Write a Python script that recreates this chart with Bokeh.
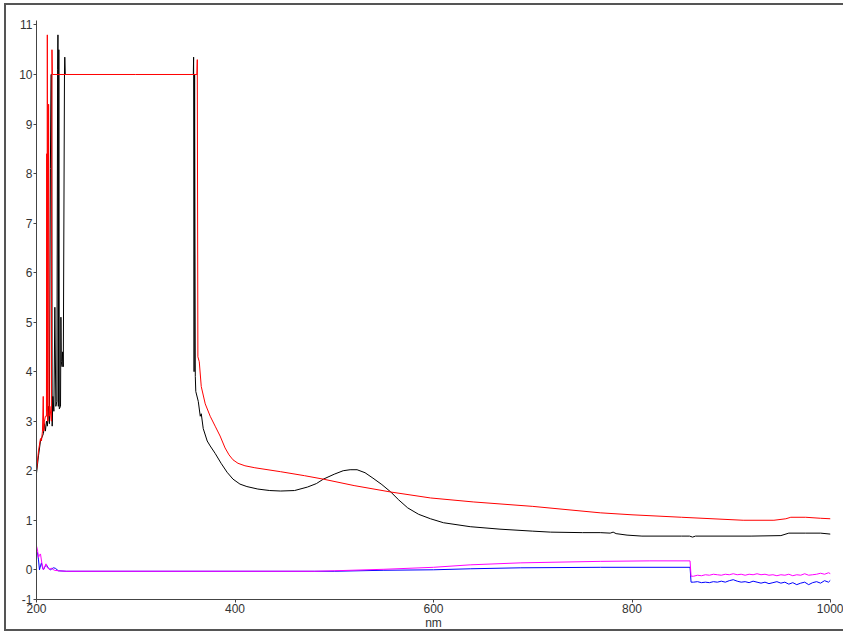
from bokeh.plotting import figure
from bokeh.models import FixedTicker
from bokeh.embed import file_html
from bokeh.resources import INLINE

NaN = float("nan")

# ---- data ----
black_nm = [200, 202, 204, 206, 207, 208, 209, 210, 211, 212, 213, 214, 214.6, 215.3, 215.8, 216.5,
            217.5, 218.5, 219.5, 220.5, 221.3, 221.6, 222, 222.5, 223, 224.2, 224.6, 225, 225.8, 226.3,
            227, 228.2, 228.5, 229, 300, 358, 358.3, 358.8, 359.3, 360, 360.5, 363, 365, 366, 368,
            372, 375, 380, 386, 392, 398, 405, 412, 423, 435, 446, 460, 473, 482, 489, 500, 509, 516, 523,
            531, 539, 548, 557, 565, 574, 585, 597, 610, 637, 667, 700, 718, 750, 768, 778, 781, 784,
            795, 810, 850, 858, 861, 864, 920, 950, 958, 975, 990, 1000]
black_abs = [1.95, 2.3, 2.6, 2.7, 2.75, 2.95, 2.8, 3.0, 2.9, 3.3, 2.95, 8.1, 10.0, 10.0, 2.9, 3.5,
             3.2, 5.3, 3.3, 3.4, 10.1, 10.8, 3.3, 10.5, 3.25, 3.3, 5.1, 4.2, 4.1, 4.4,
             4.1, 10.05, 10.35, 10.0, NaN, 10.0, 10.35, 4.0, 10.0, 3.9, 3.6, 3.4, 3.1, 3.15, 2.85,
             2.6, 2.5, 2.35, 2.15, 1.97, 1.83, 1.73, 1.68, 1.63, 1.6, 1.59, 1.6, 1.67, 1.74, 1.83, 1.93, 2.0, 2.02, 2.02,
             1.96, 1.85, 1.72, 1.57, 1.41, 1.25, 1.12, 1.03, 0.95, 0.87, 0.82, 0.78, 0.76, 0.75, 0.75, 0.74, 0.76, 0.73,
             0.70, 0.68, 0.68, 0.68, 0.66, 0.68, 0.68, 0.69, 0.74, 0.74, 0.74, 0.72]

red_nm = [200, 202, 204, 205, 206, 206.8, 207.3, 208, 209, 210, 210.3, 210.6, 210.9, 211.4, 212.2,
          212.8, 213.5, 215, 215.6, 216, 300, 361.6, 362, 362.6, 364, 366, 370, 375, 380, 385, 390,
          394, 398, 403, 410, 420, 446, 470, 489, 520, 557, 597, 640, 700, 768, 800, 850, 912, 943,
          955, 960, 975, 990, 1000]
red_abs = [2.0, 2.4, 2.65, 2.6, 2.8, 3.5, 2.8, 3.0, 3.1, 3.1, 8.4, 3.2, 10.8, 3.0, 9.4,
           3.1, 3.3, 3.0, 10.5, 10.0, 10.0, 10.0, 10.3, 4.3, 4.2, 3.7, 3.35, 3.1, 2.9, 2.7, 2.46,
           2.32, 2.22, 2.15, 2.1, 2.06, 1.98, 1.9, 1.83, 1.7, 1.57, 1.45, 1.37, 1.28, 1.15, 1.11, 1.06, 1.0, 1.0,
           1.03, 1.06, 1.06, 1.04, 1.03]

magenta_nm = [200, 201, 202, 203, 204, 205.5, 207, 208, 209.5, 211, 213, 215, 218, 222, 230, 480,
              500, 550, 600, 637, 688, 768, 818, 858.5, 859.5, 862, 866, 870, 874, 878, 882, 886,
              890, 894, 898, 902, 906, 910, 914, 918, 922, 926, 930, 934, 938, 942, 946, 950, 954,
              958, 962, 966, 970, 974, 978, 982, 986, 990, 994, 998, 1000]
magenta_abs = [0.48, 0.4, 0.25, 0.3, 0.32, 0.12, 0.0, 0.05, 0.12, 0.04, 0.01, 0.03, -0.01, -0.02, -0.03, -0.03,
               -0.02, 0.01, 0.05, 0.1, 0.14, 0.17, 0.18, 0.18, -0.13, -0.13, -0.11, -0.12, -0.1, -0.11, -0.09, -0.1,
               -0.11, -0.09, -0.1, -0.08, -0.1, -0.09, -0.11, -0.09, -0.1, -0.08, -0.1, -0.09, -0.11, -0.1, -0.12, -0.1, -0.11,
               -0.09, -0.12, -0.1, -0.11, -0.08, -0.11, -0.1, -0.09, -0.07, -0.09, -0.06, -0.08]

blue_nm = [200, 201, 202, 203, 204, 205, 206, 207, 208.5, 210, 212, 214, 217, 219, 222, 230, 480,
           500, 550, 600, 637, 688, 768, 858.5, 859.5, 862, 866, 870, 874, 878, 882, 886, 890, 894,
           898, 902, 906, 910, 914, 918, 922, 926, 930, 934, 938, 942, 946, 950, 954, 958, 962, 966,
           970, 974, 978, 982, 986, 990, 994, 998, 1000]
blue_abs = [0.3, 0.35, 0.2, 0.0, 0.08, 0.14, 0.05, 0.0, 0.06, 0.1, 0.03, 0.0, 0.04, 0.03, -0.02, -0.03, -0.03,
            -0.03, -0.01, 0.0, 0.02, 0.04, 0.05, 0.05, -0.25, -0.25, -0.24, -0.26, -0.25, -0.26, -0.24, -0.25, -0.23, -0.25,
            -0.22, -0.2, -0.23, -0.25, -0.24, -0.26, -0.23, -0.25, -0.27, -0.25, -0.28, -0.26, -0.24, -0.27, -0.25, -0.29, -0.26, -0.3,
            -0.27, -0.25, -0.3, -0.26, -0.24, -0.27, -0.22, -0.25, -0.21]

x_ticks = [200, 400, 600, 800, 1000]
y_ticks = [-0.6, 0, 1, 2, 3, 4, 5, 6, 7, 8, 9, 10, 11]
y_bottom_label = "-1"
x_title = "nm"

# ---- figure ----
p = figure(width=843, height=632, output_backend="svg", toolbar_location=None,
           x_range=(200, 1000), y_range=(-0.6, 11.09),
           min_border_left=36, min_border_right=13, min_border_top=20, min_border_bottom=32)
p.background_fill_color = "white"
p.border_fill_color = None
p.outline_line_color = None
p.xgrid.visible = False
p.ygrid.visible = False
p.styles = {"box-shadow": "inset 0 3px 0 0 #ffffff, inset 4px 0 0 0 #ffffff, inset 0 -1px 0 0 #ffffff, "
                          "inset 0 5px 0 0 #555555, inset 6px 0 0 0 #555555, inset 0 -3px 0 0 #555555",
            "background-color": "#ffffff"}

for ax in (p.xaxis[0], p.yaxis[0]):
    ax.axis_line_color = "#444444"
    ax.major_tick_line_color = "#444444"
    ax.major_tick_out = 3
    ax.major_tick_in = 0
    ax.minor_tick_line_color = None
    ax.major_label_text_font = "Liberation Sans"
    ax.major_label_text_font_size = "12px"
    ax.major_label_text_color = "#333333"
    ax.major_label_standoff = 1

p.xaxis.ticker = FixedTicker(ticks=x_ticks)
p.yaxis.ticker = FixedTicker(ticks=y_ticks)
p.yaxis.major_label_overrides = {-0.6: y_bottom_label}
p.xaxis.axis_label = x_title
p.xaxis.axis_label_standoff = 0
p.xaxis.axis_label_text_font = "Liberation Sans"
p.xaxis.axis_label_text_font_size = "12px"
p.xaxis.axis_label_text_font_style = "normal"
p.xaxis.axis_label_text_color = "#333333"

p.line(blue_nm, blue_abs, line_color="#0000ff", line_width=1)
p.line(magenta_nm, magenta_abs, line_color="#ff00ff", line_width=1)
p.line(black_nm, black_abs, line_color="#000000", line_width=1)
p.line(red_nm, red_abs, line_color="#ff0000", line_width=1)

open("out.html", "w").write(file_html(p, INLINE))
